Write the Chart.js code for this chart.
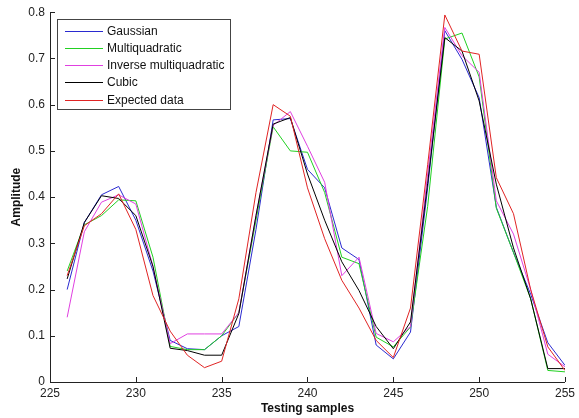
<!DOCTYPE html>
<html>
<head>
<meta charset="utf-8">
<script src="https://cdn.jsdelivr.net/npm/chart.js@4"></script>
<style>
  html, body { margin: 0; padding: 0; background: #fff; }
  #wrap { width: 579px; height: 418px; }
</style>
</head>
<body>
<div id="wrap"><canvas id="ampChart"></canvas></div>
<script>
// sample index on the x axis
var samples = [226, 227, 228, 229, 230, 231, 232, 233, 234, 235,
               236, 237, 238, 239, 240, 241, 242, 243, 244, 245,
               246, 247, 248, 249, 250, 251, 252, 253, 254, 255];

var gaussian = [0.20, 0.345, 0.405, 0.423, 0.35, 0.24, 0.09, 0.072, 0.07, 0.10,
                0.12, 0.33, 0.567, 0.57, 0.46, 0.42, 0.29, 0.265, 0.08, 0.05,
                0.108, 0.42, 0.76, 0.698, 0.615, 0.378, 0.28, 0.19, 0.085, 0.036];

var multiquadratic = [0.24, 0.34, 0.36, 0.394, 0.392, 0.27, 0.077, 0.07, 0.07, 0.10,
                      0.15, 0.35, 0.552, 0.50, 0.497, 0.41, 0.27, 0.256, 0.097, 0.076,
                      0.119, 0.38, 0.742, 0.755, 0.66, 0.376, 0.28, 0.18, 0.025, 0.022];

var invMultiquadratic = [0.14, 0.325, 0.389, 0.405, 0.385, 0.25, 0.083, 0.104, 0.104, 0.104,
                         0.15, 0.36, 0.555, 0.585, 0.51, 0.432, 0.23, 0.27, 0.105, 0.087,
                         0.12, 0.45, 0.767, 0.706, 0.67, 0.392, 0.32, 0.20, 0.06, 0.033];

var cubic = [0.223, 0.345, 0.403, 0.397, 0.36, 0.25, 0.073, 0.068, 0.058, 0.058,
             0.148, 0.36, 0.558, 0.572, 0.45, 0.35, 0.26, 0.198, 0.12, 0.072,
             0.13, 0.43, 0.745, 0.716, 0.608, 0.428, 0.29, 0.18, 0.029, 0.029];

var expected = [0.23, 0.338, 0.364, 0.407, 0.33, 0.187, 0.11, 0.058, 0.031, 0.045,
                0.18, 0.41, 0.60, 0.575, 0.42, 0.31, 0.22, 0.16, 0.09, 0.053,
                0.16, 0.47, 0.794, 0.716, 0.709, 0.442, 0.364, 0.20, 0.076, 0.025];

function toPoints(vals) {
  return samples.map(function (s, i) { return { x: s, y: vals[i] }; });
}

function series(label, vals, color, order) {
  return {
    label: label,
    data: toPoints(vals),
    borderColor: color,
    backgroundColor: color,
    borderWidth: 1,
    pointRadius: 0,
    tension: 0,
    fill: false,
    order: order
  };
}

var FONT = 'Liberation Sans, Arial, sans-serif';

// inward tick marks on both axes
var tickMarks = {
  id: 'tickMarks',
  afterDraw: function (chart) {
    var ctx = chart.ctx, a = chart.chartArea;
    var xs = chart.scales.x, ys = chart.scales.y;
    ctx.save();
    ctx.strokeStyle = '#222';
    ctx.lineWidth = 1;
    ctx.beginPath();
    xs.ticks.forEach(function (t) {
      var px = Math.round(xs.getPixelForValue(t.value)) + 0.5;
      ctx.moveTo(px, a.bottom);
      ctx.lineTo(px, a.bottom - 5);
    });
    ys.ticks.forEach(function (t) {
      var py = Math.round(ys.getPixelForValue(t.value)) + 0.5;
      ctx.moveTo(a.left, py);
      ctx.lineTo(a.left + 5, py);
    });
    ctx.stroke();
    ctx.restore();
  }
};

// boxed legend in the upper left of the plot
var boxLegend = {
  id: 'boxLegend',
  afterDraw: function (chart) {
    var ctx = chart.ctx;
    var x0 = 57.5, y0 = 19.5, w = 173, h = 90, rowH = 17.3;
    ctx.save();
    ctx.fillStyle = '#fff';
    ctx.fillRect(x0, y0, w, h);
    ctx.strokeStyle = '#444';
    ctx.lineWidth = 1;
    ctx.strokeRect(x0, y0, w, h);
    ctx.font = '12px ' + FONT;
    ctx.textBaseline = 'middle';
    chart.data.datasets.forEach(function (ds, i) {
      var y = Math.round(y0 + 11 + i * rowH) + 0.5;
      ctx.strokeStyle = ds.borderColor;
      ctx.beginPath();
      ctx.moveTo(65, y);
      ctx.lineTo(103, y);
      ctx.stroke();
      ctx.fillStyle = '#111';
      ctx.fillText(ds.label, 107, y);
    });
    ctx.restore();
  }
};

var ctx = document.getElementById('ampChart').getContext('2d');

var ampChart = new Chart(ctx, {
  type: 'line',
  data: {
    datasets: [
      series('Gaussian', gaussian, '#2a2ad0', 5),
      series('Multiquadratic', multiquadratic, '#22d022', 4),
      series('Inverse multiquadratic', invMultiquadratic, '#e040e0', 3),
      series('Cubic', cubic, '#000000', 2),
      series('Expected data', expected, '#e02424', 1)
    ]
  },
  options: {
    responsive: true,
    maintainAspectRatio: false,
    animation: false,
    layout: { padding: { top: 11, right: 9, left: 0, bottom: 0 } },
    plugins: {
      legend: { display: false },
      tooltip: { enabled: false }
    },
    scales: {
      x: {
        type: 'linear',
        min: 225,
        max: 255,
        afterFit: function (s) { s.height = 36; },
        grid: { display: false, drawTicks: false },
        border: { display: true, color: '#222', width: 1 },
        ticks: {
          stepSize: 5,
          padding: 4,
          color: '#222',
          font: { family: FONT, size: 12 }
        },
        title: {
          display: true,
          text: 'Testing samples',
          color: '#111',
          padding: { top: 0, bottom: 2 },
          font: { family: FONT, size: 12, weight: 'bold' }
        }
      },
      y: {
        min: 0,
        max: 0.8,
        afterFit: function (s) { s.width = 50; },
        grid: { display: false, drawTicks: false },
        border: { display: true, color: '#222', width: 1 },
        ticks: {
          stepSize: 0.1,
          padding: 5,
          color: '#222',
          font: { family: FONT, size: 12 }
        },
        title: {
          display: true,
          text: 'Amplitude',
          color: '#111',
          padding: { top: 9, bottom: 0 },
          font: { family: FONT, size: 12, weight: 'bold' }
        }
      }
    }
  },
  plugins: [tickMarks, boxLegend]
});
</script>
</body>
</html>
